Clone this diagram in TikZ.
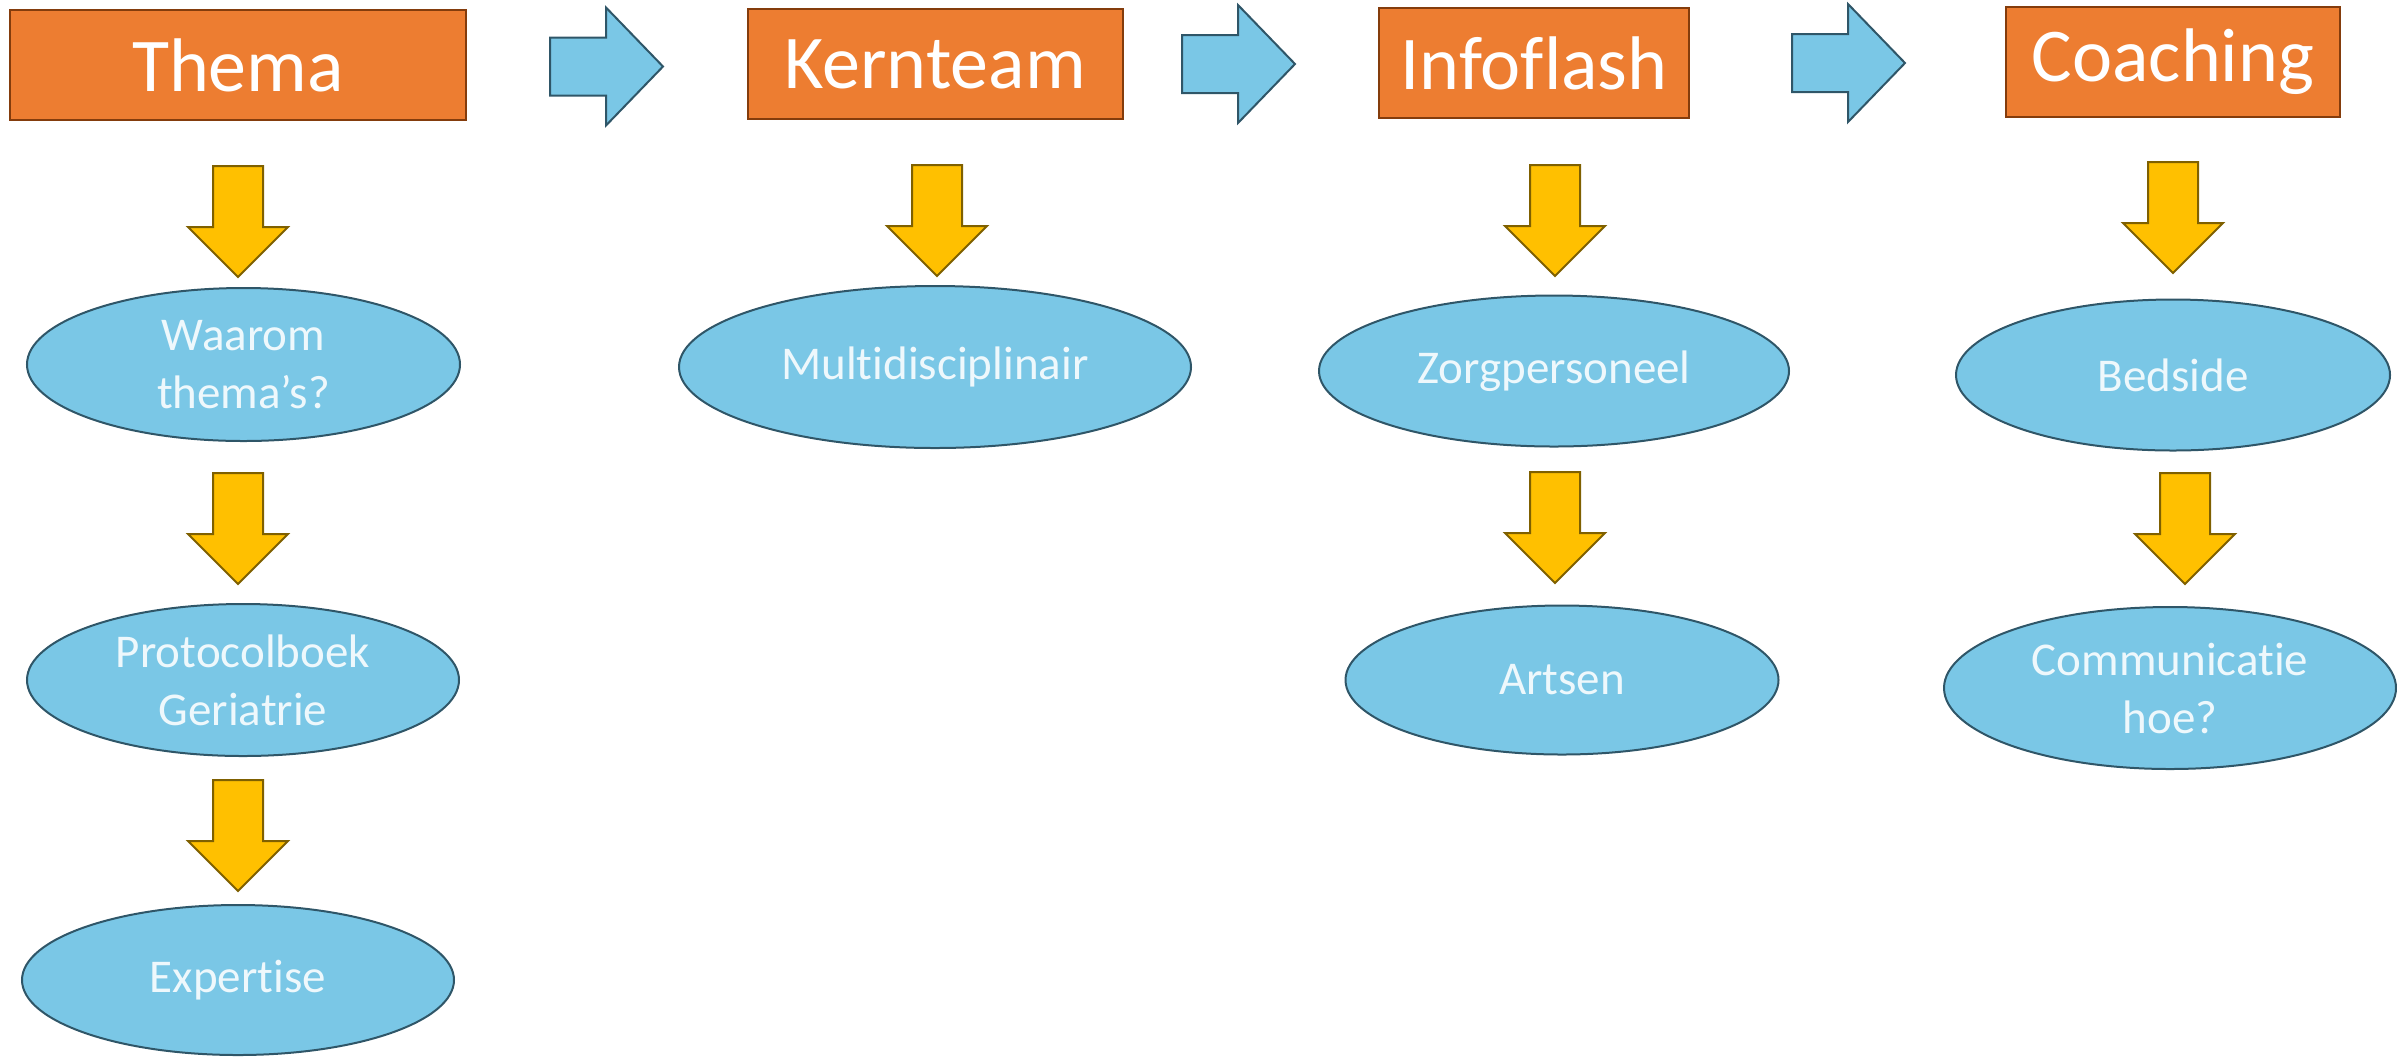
\documentclass[tikz,border=0pt]{standalone}
\usepackage{fontspec}
\setmainfont[Ligatures=NoCommon]{Carlito}
\usetikzlibrary{shapes.geometric}

\definecolor{boxorange}{HTML}{ED7D31}
\definecolor{boxedge}{HTML}{843C0C}
\definecolor{ovalblue}{HTML}{7AC7E6}
\definecolor{ovaledge}{HTML}{2F5668}
\definecolor{ovaltext}{HTML}{EEF8FC}
\definecolor{arrowyellow}{HTML}{FFC000}
\definecolor{arrowedge}{HTML}{7F6000}

\tikzset{
  titlebox/.style={draw=boxedge, fill=boxorange, line width=1pt, text=white,
    font=\fontsize{38}{44}\selectfont, inner sep=0pt, minimum height=55pt},
  oval/.style={ellipse, draw=ovaledge, fill=ovalblue, line width=1pt, text=ovaltext,
    font=\fontsize{23.5}{29}\selectfont, align=center, inner sep=0pt},
  yellowarrow/.style={draw=arrowedge, fill=arrowyellow, line width=1pt},
  bluearrow/.style={draw=ovaledge, fill=ovalblue, line width=1pt},
}

% block arrow pointing down: #1 = centre x, #2 = top y
\newcommand{\downblock}[2]{%
  \draw[yellowarrow] (#1-25,#2) -- (#1+25,#2) -- (#1+25,#2+61) -- (#1+50,#2+61)
    -- (#1,#2+111) -- (#1-50,#2+61) -- (#1-25,#2+61) -- cycle;}
% block arrow pointing right: #1 = left x, #2 = middle y
\newcommand{\rightblock}[2]{%
  \draw[bluearrow] (#1,#2-29) -- (#1+56,#2-29) -- (#1+56,#2-59) -- (#1+113,#2)
    -- (#1+56,#2+59) -- (#1+56,#2+29) -- (#1,#2+29) -- cycle;}

\begin{document}
\begin{tikzpicture}[x=0.5pt, y=-0.5pt]
  \useasboundingbox (0,0) rectangle (2397,1057); %page frame

  % title row
  \node[titlebox, minimum width=228pt] (thema) at (238,65) {Thema};
  \node[titlebox, minimum width=187.5pt] (kernteam) at (935,64) {Kernteam};
  \node[titlebox, minimum width=155pt] (infoflash) at (1534,63) {Infoflash};
  \node[titlebox, minimum width=167pt] (coaching) at (2173,61.5) {Coaching};

  \rightblock{550}{66.5} %thema to kernteam
  \rightblock{1182}{64} %kernteam to infoflash
  \rightblock{1792}{63} %infoflash to coaching

  % first column
  \downblock{238}{166}
  \node[oval, minimum width=216.5pt, minimum height=76.5pt] (waarom) at (243.5,364.5) {Waarom\\thema’s?};
  \downblock{238}{473}
  \node[oval, minimum width=216pt, minimum height=76pt] (protocol) at (243,680) {Protocolboek\\Geriatrie};
  \downblock{238}{780}
  \node[oval, minimum width=216pt, minimum height=75pt] (expertise) at (238,980) {Expertise};

  % second column
  \downblock{937}{165}
  \node[oval, minimum width=256pt, minimum height=81pt] (multi) at (935,367) {Multidisciplinair};

  % third column
  \downblock{1555}{165}
  \node[oval, minimum width=235pt, minimum height=75.5pt] (zorg) at (1554,371) {Zorgpersoneel};
  \downblock{1555}{472}
  \node[oval, minimum width=216.5pt, minimum height=74.5pt] (artsen) at (1562,680) {Artsen};

  % fourth column
  \downblock{2173}{162}
  \node[oval, minimum width=217pt, minimum height=75.5pt] (bedside) at (2173,375) {Bedside};
  \downblock{2185}{473}
  \node[oval, minimum width=226pt, minimum height=81pt] (commu) at (2170,688) {Communicatie\\hoe?};
\end{tikzpicture}
\end{document}
